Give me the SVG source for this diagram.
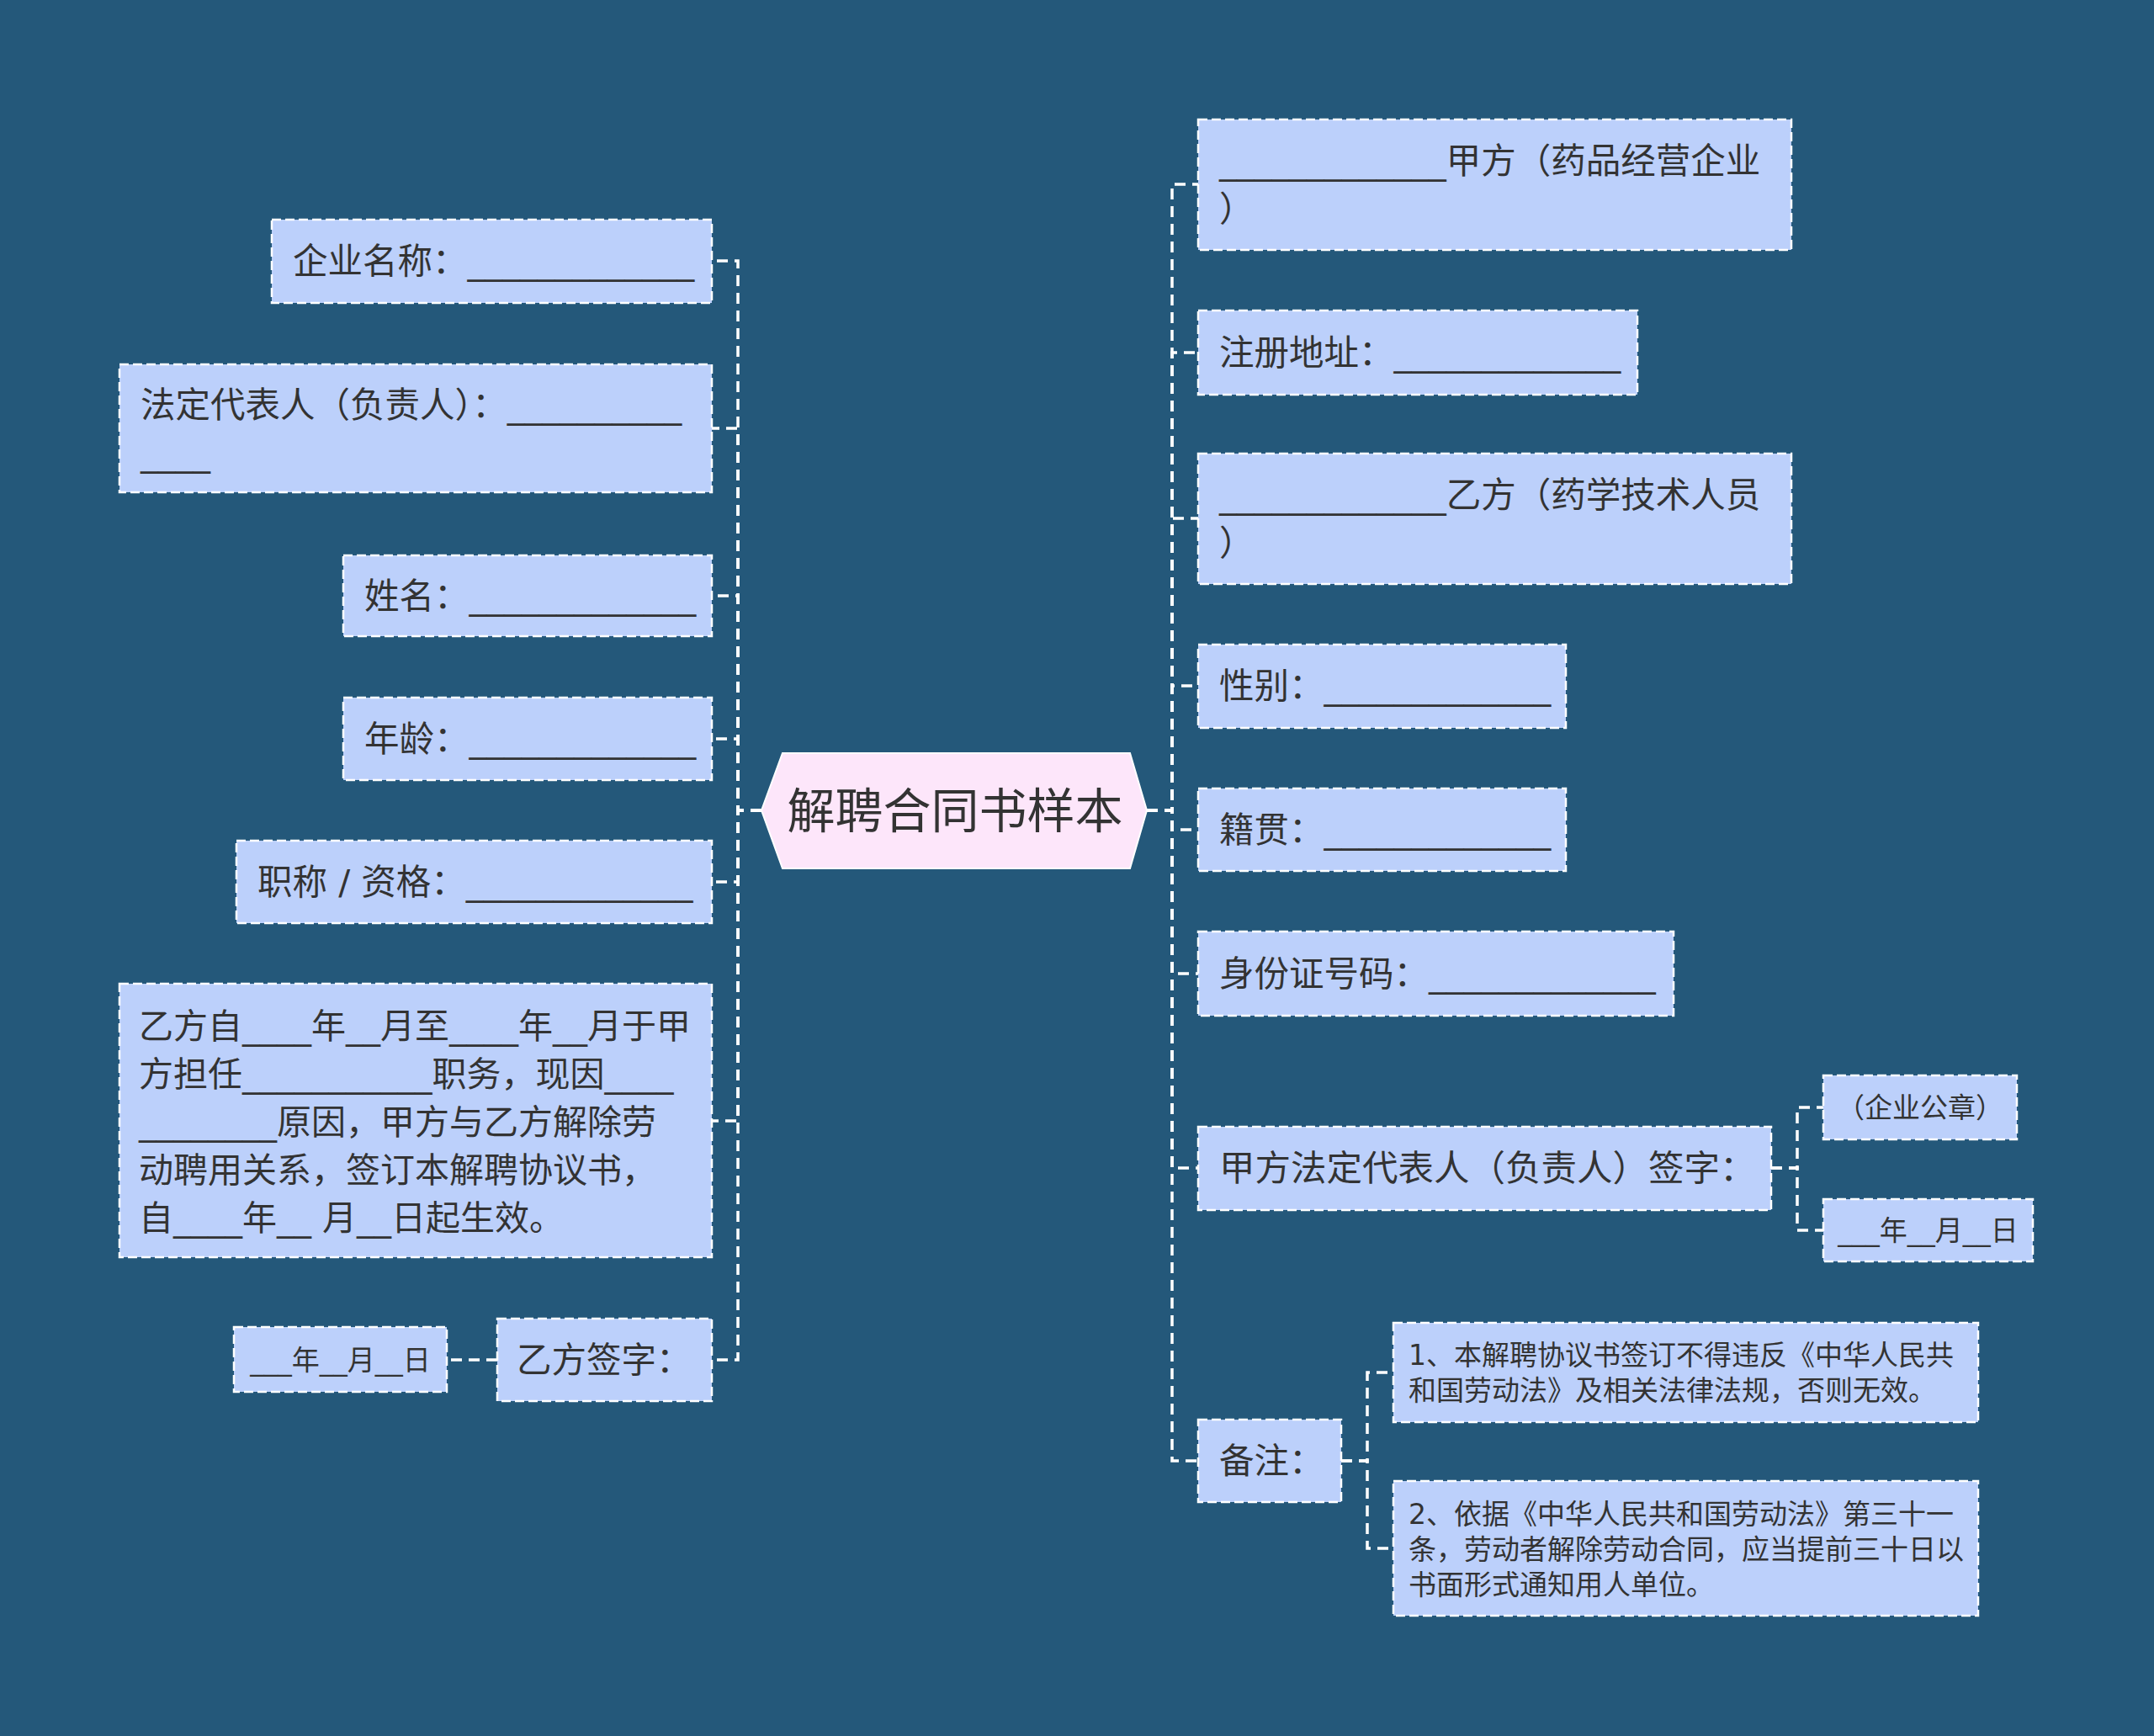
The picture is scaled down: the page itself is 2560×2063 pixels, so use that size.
<svg xmlns="http://www.w3.org/2000/svg" width="2560" height="2063" viewBox="0 0 2560 2063">
<style>
.bg{fill:#24587a}
.box{fill:#bcd0fb;stroke:#ffffff;stroke-width:2.5;stroke-dasharray:11 5}
.conn{fill:none;stroke:#ffffff;stroke-width:3.5;stroke-dasharray:13 8}
.t{font-family:"DejaVu Sans","Noto Sans CJK SC",sans-serif;fill:#333333;font-size:41.5px}
.l6{font-size:41px}
.m{text-anchor:middle}
.s{font-size:33px}
.n{font-size:33px}
.c{font-size:57px;font-family:"Noto Sans CJK SC",sans-serif}
</style>
<rect class="bg" x="0" y="0" width="2560" height="2063"/>
<g id="connectors">
<path class="conn" d="M905 963 H877 V310 H846"/>
<path class="conn" d="M905 963 H877 V509 H846"/>
<path class="conn" d="M905 963 H877 V708 H846"/>
<path class="conn" d="M905 963 H877 V878 H846"/>
<path class="conn" d="M905 963 H877 V1048 H846"/>
<path class="conn" d="M905 963 H877 V1332 H846"/>
<path class="conn" d="M905 963 H877 V1616 H846"/>
<path class="conn" d="M591 1616 H531"/>
<path class="conn" d="M1363 963 H1393 V219 H1424"/>
<path class="conn" d="M1363 963 H1393 V419 H1424"/>
<path class="conn" d="M1363 963 H1393 V616 H1424"/>
<path class="conn" d="M1363 963 H1393 V815 H1424"/>
<path class="conn" d="M1363 963 H1393 V986 H1424"/>
<path class="conn" d="M1363 963 H1393 V1157 H1424"/>
<path class="conn" d="M1363 963 H1393 V1388 H1424"/>
<path class="conn" d="M1363 963 H1393 V1736 H1424"/>
<path class="conn" d="M2105 1388 H2136 V1316 H2167"/>
<path class="conn" d="M2105 1388 H2136 V1462 H2167"/>
<path class="conn" d="M1594 1736 H1625 V1631 H1656"/>
<path class="conn" d="M1594 1736 H1625 V1840 H1656"/>
</g>
<g id="root">
<polygon points="905,963 930,895 1343,895 1363,963 1343,1032 930,1032" fill="#fde6fa" stroke="#ffffff" stroke-width="2"/>
<text class="t c m" x="1135" y="984">解聘合同书样本</text>
</g>
<g id="L1"><rect class="box" x="323" y="261" width="523" height="99"/><text class="t" x="348" y="325">企业名称：_____________</text></g>
<g id="L2"><rect class="box" x="142" y="433" width="704" height="152"/><text class="t" x="167" y="496">法定代表人（负责人）：__________</text><text class="t" x="167" y="553">____</text></g>
<g id="L3"><rect class="box" x="408" y="660" width="438" height="96"/><text class="t" x="433" y="723">姓名：_____________</text></g>
<g id="L4"><rect class="box" x="408" y="829" width="438" height="98"/><text class="t" x="433" y="893">年龄：_____________</text></g>
<g id="L5"><rect class="box" x="281" y="999" width="565" height="98"/><text class="t" x="306" y="1063">职称 / 资格：_____________</text></g>
<g id="L6"><rect class="box" x="142" y="1169" width="704" height="325"/>
<text class="t l6" x="165" y="1234">乙方自____年__月至____年__月于甲</text>
<text class="t l6" x="165" y="1291">方担任___________职务，现因____</text>
<text class="t l6" x="165" y="1348">________原因，甲方与乙方解除劳</text>
<text class="t l6" x="165" y="1405">动聘用关系，签订本解聘协议书，</text>
<text class="t l6" x="165" y="1462">自____年__ 月__日起生效。</text>
</g>
<g id="L7"><rect class="box" x="591" y="1567" width="255" height="98"/><text class="t" x="614" y="1631">乙方签字：</text></g>
<g id="L7a"><rect class="box" x="278" y="1577" width="253" height="77"/><text class="t s m" x="404.5" y="1628">___年__月__日</text></g>
<g id="R1"><rect class="box" x="1424" y="142" width="705" height="155"/><text class="t" x="1449" y="206">_____________甲方（药品经营企业</text><text class="t" x="1449" y="263">）</text></g>
<g id="R2"><rect class="box" x="1424" y="369" width="522" height="100"/><text class="t" x="1449" y="434">注册地址：_____________</text></g>
<g id="R3"><rect class="box" x="1424" y="539" width="705" height="155"/><text class="t" x="1449" y="603">_____________乙方（药学技术人员</text><text class="t" x="1449" y="660">）</text></g>
<g id="R4"><rect class="box" x="1424" y="766" width="437" height="99"/><text class="t" x="1449" y="830">性别：_____________</text></g>
<g id="R5"><rect class="box" x="1424" y="937" width="437" height="98"/><text class="t" x="1449" y="1001">籍贯：_____________</text></g>
<g id="R6"><rect class="box" x="1424" y="1107" width="565" height="100"/><text class="t" x="1449" y="1172">身份证号码：_____________</text></g>
<g id="R7"><rect class="box" x="1424" y="1339" width="681" height="99"/><text class="t" x="1449" y="1403" style="font-size:42.5px">甲方法定代表人（负责人）签字：</text></g>
<g id="R7a"><rect class="box" x="2167" y="1278" width="230" height="76"/><text class="t s m" x="2282" y="1328">（企业公章）</text></g>
<g id="R7b"><rect class="box" x="2167" y="1425" width="249" height="74"/><text class="t s m" x="2291.5" y="1474">___年__月__日</text></g>
<g id="R8"><rect class="box" x="1424" y="1687" width="170" height="98"/><text class="t" x="1449" y="1751">备注：</text></g>
<g id="N1"><rect class="box" x="1656" y="1572" width="695" height="118"/>
<text class="t n" x="1674" y="1622">1、本解聘协议书签订不得违反《中华人民共</text>
<text class="t n" x="1674" y="1664">和国劳动法》及相关法律法规，否则无效。</text>
</g>
<g id="N2"><rect class="box" x="1656" y="1760" width="695" height="160"/>
<text class="t n" x="1674" y="1811">2、依据《中华人民共和国劳动法》第三十一</text>
<text class="t n" x="1674" y="1853">条，劳动者解除劳动合同，应当提前三十日以</text>
<text class="t n" x="1674" y="1895">书面形式通知用人单位。</text>
</g>
</svg>
